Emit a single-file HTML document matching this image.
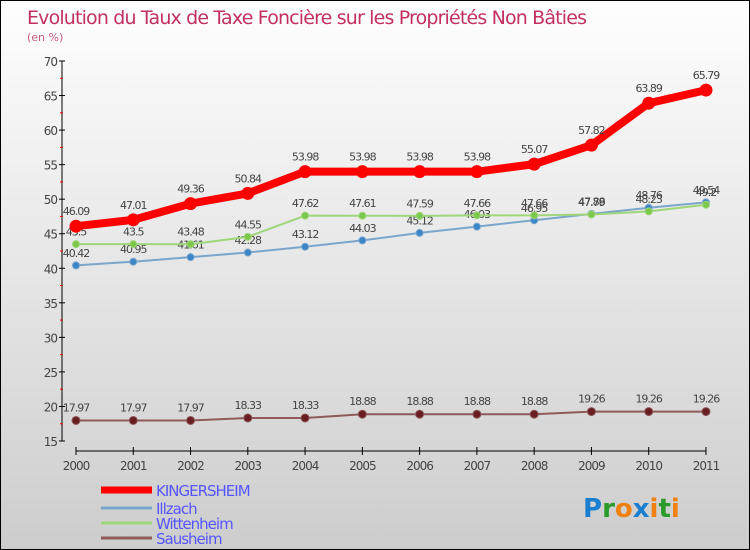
<!DOCTYPE html>
<html><head><meta charset="utf-8"><style>
body{margin:0;}
#c{width:750px;height:550px;position:relative;box-sizing:border-box;border:1px solid #000;background:linear-gradient(#fefefe,#cdcdcd);font-family:"DejaVu Sans","Liberation Sans",sans-serif;overflow:hidden}
svg text{font-family:"DejaVu Sans","Liberation Sans",sans-serif}
</style></head><body>
<div id="c">
<svg id="s" width="750" height="550">
<text x="26" y="23" font-size="19" fill="#c2305f" textLength="560">Evolution du Taux de Taxe Foncière sur les Propriétés Non Bâties</text>
<text x="26" y="40" font-size="11" fill="#c85a80">(en %)</text>
</svg>
</div>
<script>
const years=["2000","2001","2002","2003","2004","2005","2006","2007","2008","2009","2010","2011"];
const kingersheim=[46.09,47.01,49.36,50.84,53.98,53.98,53.98,53.98,55.07,57.82,63.89,65.79];
const illzach=[40.42,40.95,41.61,42.28,43.12,44.03,45.12,46.03,46.95,47.88,48.76,49.54];
const wittenheim=[43.5,43.5,43.48,44.55,47.62,47.61,47.59,47.66,47.66,47.79,48.23,49.2];
const sausheim=[17.97,17.97,17.97,18.33,18.33,18.88,18.88,18.88,18.88,19.26,19.26,19.26];
const yTicks=[15,20,25,30,35,40,45,50,55,60,65,70];
const NS="http://www.w3.org/2000/svg";
const s=document.getElementById('s');
const X=i=>75+i*57.27;
const Y=v=>440-(v-15)*(380/55);
function el(t,a,p){const e=document.createElementNS(NS,t);for(const k in a)e.setAttribute(k,a[k]);(p||s).appendChild(e);return e;}
// y axis
let ax=el('line',{x1:61,y1:60,x2:61,y2:440,stroke:'#000','stroke-width':1});

yTicks.forEach(v=>{el('line',{x1:58,x2:64,y1:Y(v),y2:Y(v),stroke:'#000'});
 let t=el('text',{x:56,y:Y(v)+5,'text-anchor':'end','font-size':12,fill:'#444','letter-spacing':'-1'});t.textContent=v;
 
 if(v<70)el('line',{x1:59,x2:62,y1:Y(v+2.5),y2:Y(v+2.5),stroke:'#e00'});});
let xa=el('line',{x1:75,y1:450,x2:X(11),y2:450,stroke:'#000'});

years.forEach((y,i)=>{el('line',{x1:X(i),x2:X(i),y1:446,y2:454,stroke:'#000'});
 let t=el('text',{x:X(i),y:469,'text-anchor':'middle','font-size':12,fill:'#444','letter-spacing':'-1'});t.textContent=y;
 });
function series(data,name,col,dot,w,r){
 const g=el('g',{});
 el('polyline',{points:data.map((v,i)=>X(i)+','+Y(v)).join(' '),fill:'none',stroke:col,'stroke-width':w},g);
 data.forEach((v,i)=>{const c=el('circle',{cx:X(i),cy:Y(v),r:r,fill:dot,stroke:col,'stroke-width':1},g);
  
  const t=el('text',{x:X(i),y:Y(v)-r-5,'text-anchor':'middle','font-size':11,fill:'#444','letter-spacing':'-1'},g);t.textContent=v;
  });
}
series(sausheim,'sausheim','#8e5a5a','#6a1e22',2,4);
series(illzach,'illzach','#7aa6cc','#3a86c8',2,3.5);
series(wittenheim,'wittenheim','#9ed67a','#7cc84a',2,3.5);
series(kingersheim,'kingersheim','#f00','#f00',8,6);
// legend
const leg=[["KINGERSHEIM","#f00",7,492],["Illzach","#7aa6cc",3,510],["Wittenheim","#9ed67a",3,525],["Sausheim","#8e5a5a",3,540]];
leg.forEach(l=>{const g=el('g',{});
 el('line',{x1:100,x2:151,y1:l[3]-3,y2:l[3]-3,stroke:l[1],'stroke-width':l[2]},g);
 const t=el('text',{x:155,y:l[3]+3,'font-size':15,fill:'#55f','letter-spacing':'-1'},g);t.textContent=l[0];});
const lg=el('text',{x:582,y:516,'font-size':26,'font-weight':'bold'});
[["P","#1a7fd0"],["r","#2a9a2a"],["o","#f08010"],["x","#1a7fd0"],["i","#f08010"],["t","#2a9a2a"],["i","#f08010"]].forEach(p=>{const ts=el('tspan',{fill:p[1]},lg);ts.textContent=p[0];});
</script>
</body></html>
